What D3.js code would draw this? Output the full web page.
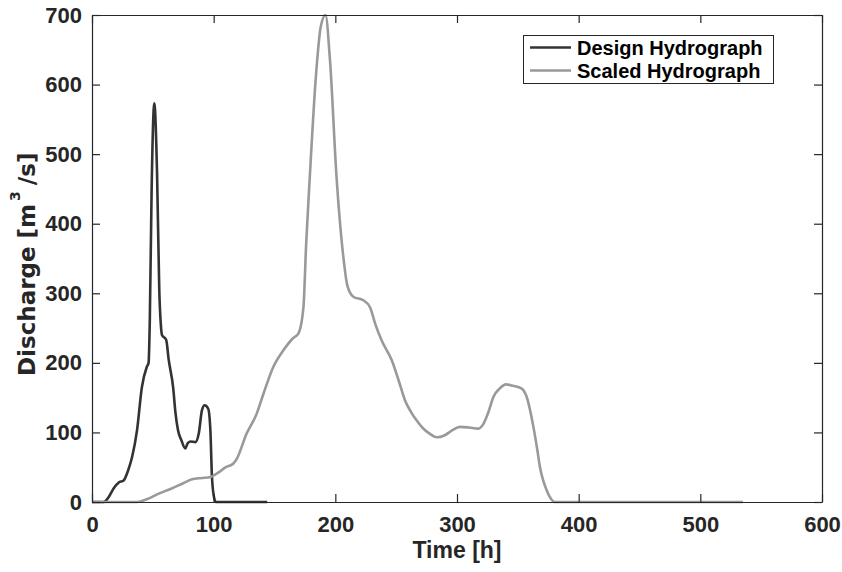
<!DOCTYPE html>
<html>
<head>
<meta charset="utf-8">
<script src="https://cdn.jsdelivr.net/npm/d3@7"></script>
<style>
  html, body { margin: 0; padding: 0; background: #fff; }
  svg { display: block; }
  text { font-family: "Liberation Sans", Arial, Helvetica, sans-serif; font-weight: bold; }
</style>
</head>
<body>
<svg id="chart" width="842" height="572"></svg>
<script>
// ---- data ----
const designTime = [0, 9.6, 14, 18, 22, 26, 29.6, 33, 37, 41, 45, 46.5, 47.5, 49, 51.2, 53.5, 55.3, 56.5, 57.5, 61, 63, 66.8, 68.5, 70.7, 73.4, 76.7, 78.5, 80.8, 85, 87.7, 90.4, 92.6, 95.5, 97.3, 98.6, 100.5, 101.8, 144];
const designQ    = [0, 0,   8,  20, 28, 31, 45,   65, 103, 165, 194, 200, 260, 448, 573, 470, 304, 257, 240, 233, 205, 163, 130, 103, 89, 77, 84, 87, 86, 98, 132, 139, 134, 103, 36, 5, 0, 0];

const scaledTime = [0, 37, 45, 54.8, 65, 75, 82.2, 90, 97.3, 102.7, 110, 116, 119, 127, 135.4, 141, 149, 157.3, 165, 169.6, 173.8, 176, 179, 184, 188, 191.9, 195.6, 201, 206.6, 209.9, 214.8, 223, 228.5, 233, 238.1, 246.3, 252, 257.3, 262, 266.9, 272, 277.8, 283.3, 290, 296, 302.5, 310, 317.5, 321.6, 326, 329.9, 335, 340.3, 346, 353.2, 357.3, 362.8, 366, 368.2, 371, 373.7, 376, 379.1, 381, 535];
const scaledQ    = [0, 0,  4,  12,   19, 27, 32.6, 34.5, 36, 41,   50,  55,  62,  98,  127,   156, 194, 218,   235, 242,   280,   370, 467, 611, 683, 700,   635,   467, 352,   311,   295,   290, 280,   255, 232,   204,   175, 146,   130, 117,   106, 98,    93,    96,  103, 108,   107, 105.5, 112,   130, 151,   163, 169,   167, 163,   151,   108,   75,  50,    30,  17,    8,   1,     0,   0];

const xTicks = [0, 100, 200, 300, 400, 500, 600];
const yTicks = [0, 100, 200, 300, 400, 500, 600, 700];
const seriesNames = ["Design Hydrograph", "Scaled Hydrograph"];
const seriesColors = ["#333333", "#999999"];

// ---- layout ----
const svg = d3.select("#chart");
const L = 92, R = 822, T = 15, B = 502;
const x = d3.scaleLinear().domain([0, 600]).range([L, R]);
const y = d3.scaleLinear().domain([0, 700]).range([B, T]);
const axisColor = "#262626";

const line = d3.line().x(d => x(d[0])).y(d => y(d[1])).curve(d3.curveMonotoneX);

svg.append("clipPath").attr("id", "clip")
  .append("rect").attr("x", L).attr("y", T - 2).attr("width", R - L).attr("height", B - T + 4);

const plot = svg.append("g").attr("clip-path", "url(#clip)");
const series = [
  d3.zip(designTime, designQ),
  d3.zip(scaledTime, scaledQ)
];
series.forEach((s, i) => {
  plot.append("path").datum(s)
    .attr("d", line)
    .attr("fill", "none")
    .attr("stroke", seriesColors[i])
    .attr("stroke-width", 2.6)
    .attr("stroke-linejoin", "round");
});

// ---- axes ----
const tickLen = 8;
const fs = 22;
const gx = svg.append("g").attr("transform", `translate(0,${B})`)
  .call(d3.axisBottom(x).tickValues(xTicks).tickSizeInner(-tickLen).tickSizeOuter(0).tickPadding(22).tickFormat(d3.format("d")));
const gxTop = svg.append("g").attr("transform", `translate(0,${T})`)
  .call(d3.axisTop(x).tickValues(xTicks).tickSizeInner(-tickLen).tickSizeOuter(0).tickFormat(""));
const gy = svg.append("g").attr("transform", `translate(${L},0)`)
  .call(d3.axisLeft(y).tickValues(yTicks).tickSizeInner(-tickLen).tickSizeOuter(0).tickPadding(10).tickFormat(d3.format("d")));
const gyR = svg.append("g").attr("transform", `translate(${R},0)`)
  .call(d3.axisRight(y).tickValues(yTicks).tickSizeInner(-tickLen).tickSizeOuter(0).tickFormat(""));

[gx, gxTop, gy, gyR].forEach(g => {
  g.select(".domain").attr("stroke", axisColor).attr("stroke-width", 1.2);
  g.selectAll(".tick line").attr("stroke", axisColor).attr("stroke-width", 1.2);
  g.selectAll(".tick text").attr("fill", axisColor).style("font-size", fs + "px").style("font-family", '"Liberation Sans", Arial, sans-serif').style("font-weight", "bold");
});
gx.selectAll(".tick text").attr("dy", "0.35em");

// axis labels
svg.append("text")
  .attr("x", (L + R) / 2).attr("y", 558)
  .attr("text-anchor", "middle")
  .attr("fill", axisColor)
  .style("font-size", "23px")
  .text("Time [h]");

const yl = svg.append("text")
  .attr("transform", `translate(35,376) rotate(-90)`)
  .attr("text-anchor", "start")
  .attr("fill", axisColor)
  .style("font-family", '"DejaVu Sans", sans-serif')
  .style("font-size", "23px");
yl.append("tspan").text("Discharge [m");
yl.append("tspan").attr("dy", -15).attr("dx", 3).style("font-size", "14px").text("3");
yl.append("tspan").attr("dy", 15).attr("dx", 6).text("/s]");

// legend
const lg = svg.append("g");
lg.append("rect").attr("x", 523.5).attr("y", 35.5).attr("width", 250).attr("height", 48)
  .attr("fill", "#fff").attr("stroke", axisColor).attr("stroke-width", 1);
seriesNames.forEach((name, i) => {
  const cy = 47.5 + i * 23;
  lg.append("line").attr("x1", 530).attr("x2", 571).attr("y1", cy).attr("y2", cy)
    .attr("stroke", seriesColors[i]).attr("stroke-width", 2.6);
  lg.append("text").attr("x", 577).attr("y", cy).attr("dy", "0.35em")
    .attr("fill", "#000").style("font-size", "20px").text(name);
});
</script>
</body>
</html>
